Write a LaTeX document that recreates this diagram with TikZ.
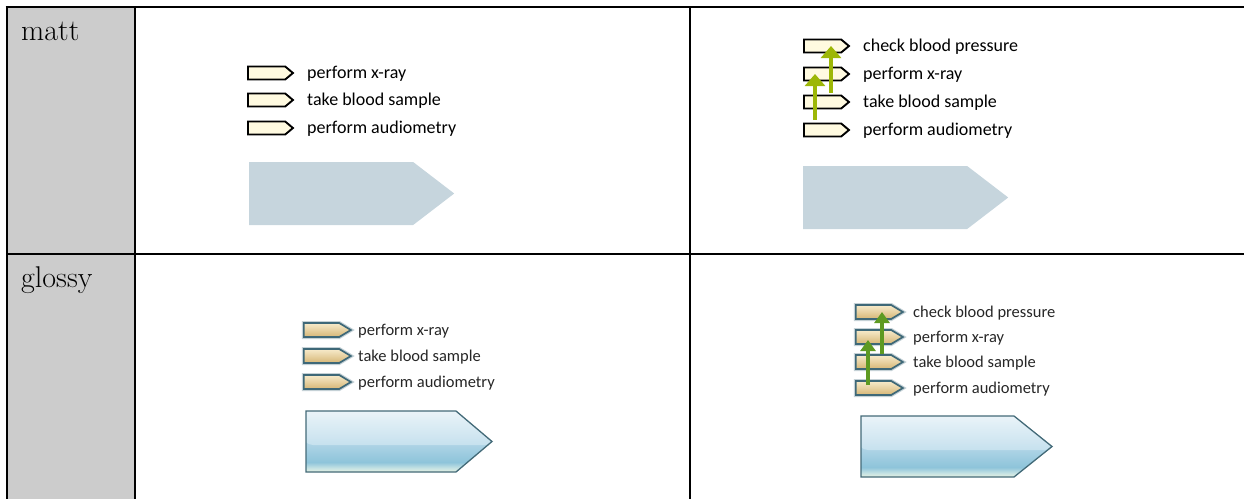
\documentclass[tikz,border=0pt]{standalone}
\usepackage{fontspec}
\newfontfamily\lblfont{Carlito}
\usetikzlibrary{shapes.symbols,arrows.meta}
\definecolor{cellgrey}{HTML}{CCCCCC}
\definecolor{cream}{HTML}{FFFAE0}
\definecolor{mattblue}{HTML}{C6D5DD}
\definecolor{mattgreen}{HTML}{9DB707}
\definecolor{glgreen}{HTML}{5E9A22}
\definecolor{gledge}{HTML}{3E6878}
\definecolor{tanlight}{HTML}{F7EBCB}
\definecolor{tandark}{HTML}{D6B676}
\definecolor{gb1}{HTML}{E6F0E0}
\definecolor{gb2}{HTML}{C8E4E4}
\definecolor{gb3}{HTML}{8EC4DA}
\definecolor{gb4}{HTML}{ACD3E5}
\definecolor{gb5}{HTML}{BCDCEA}
\definecolor{hl1}{HTML}{EFF6FA}
\definecolor{hl2}{HTML}{C6E1EE}
\definecolor{bigedge}{HTML}{436A78}
\pgfdeclareverticalshading{glossybase}{100bp}{color(0bp)=(gb1); color(25bp)=(gb1); color(28bp)=(gb2); color(33bp)=(gb3); color(47bp)=(gb4); color(75bp)=(gb5); color(100bp)=(gb5)}
% #1 left x, #2 top y, #3 point start x, #4 tip x, #5 bottom y
\newcommand\glossybig[5]{%
  \shade[shading=glossybase] (#1,#2) -- (#3,#2) -- (#4,{(#2+#5)/2}) -- (#3,#5) -- (#1,#5) -- cycle;
  \begin{scope}
    \clip (#1,#2) -- (#3,#2) -- (#4,{(#2+#5)/2}) -- (#3,#5) -- (#1,#5) -- cycle;
    \shade[top color=hl1, bottom color=hl2, rounded corners=13pt] ({#1-5},{#2-5}) rectangle ({#4+5},{#2+0.56*(#5-#2)});
  \end{scope}
  \draw[bigedge, line width=1.3pt, line join=miter] (#1,#2) -- (#3,#2) -- (#4,{(#2+#5)/2}) -- (#3,#5) -- (#1,#5) -- cycle;
}
\tikzset{
  grid/.style={line width=2pt, black},
  sig/.style={shape=signal, signal to=east, inner sep=0pt, anchor=west},
  msmall/.style={sig, draw=black, line width=1.9pt, fill=cream, minimum width=45pt, minimum height=13pt, signal pointer angle=80},
  mbig/.style={sig, fill=mattblue, minimum width=205pt, minimum height=63pt, signal pointer angle=75},
  gsmall/.style={sig, draw=gledge, line width=1.7pt, top color=tanlight, bottom color=tandark, minimum width=47pt, minimum height=14pt, signal pointer angle=62,
     preaction={draw=gledge, line width=4pt, opacity=0.3}},
  mlabel/.style={font=\lblfont\fontsize{18}{21}\selectfont, anchor=base west, inner sep=0pt},
  glabel/.style={font=\lblfont\fontsize{16.5}{19}\selectfont, text=black!85, anchor=base west, inner sep=0pt},
  rowlabel/.style={font=\fontsize{30}{34}\selectfont, anchor=base west, inner sep=0pt},
  marrow/.style={draw=mattgreen, line width=4pt, -{Triangle[width=20pt,length=12pt]}},
  garrow/.style={draw=glgreen, line width=4.5pt, -{Triangle[width=15pt,length=11pt]}}
}
\begin{document}
\begin{tikzpicture}[x=1pt,y=-1pt]
\useasboundingbox (0,0) rectangle (1244,499);
% table
\fill[cellgrey] (6.5,7) rectangle (135,499);
\draw[grid] (5.5,7) -- (1244,7);
\draw[grid] (6.5,7) -- (6.5,499);
\draw[grid] (135,7) -- (135,499);
\draw[grid] (690,7) -- (690,499);
\draw[grid] (6.5,254) -- (1244,254);
\node[rowlabel] (lmatt) at (21,40) {matt};
\node[rowlabel] (lglossy) at (21,287) {glossy};
% matt left
\node[msmall] (m1xray) at (247,73) {};
\node[msmall] (m1blood) at (247,100) {};
\node[msmall] (m1aud) at (247,128) {};
\node[mlabel] (tm1xray) at (307,78) {perform x-ray};
\node[mlabel] (tm1blood) at (307,105) {take blood sample};
\node[mlabel] (tm1aud) at (307,133) {perform audiometry};
\node[mbig] (m1big) at (249,193.5) {};
% matt right
\node[msmall] (m2check) at (803,46) {};
\node[msmall] (m2xray) at (803,74) {};
\node[msmall] (m2blood) at (803,102) {};
\node[msmall] (m2aud) at (803,130) {};
\node[mlabel] (tm2check) at (863,51) {check blood pressure};
\node[mlabel] (tm2xray) at (863,79) {perform x-ray};
\node[mlabel] (tm2blood) at (863,107) {take blood sample};
\node[mlabel] (tm2aud) at (863,135) {perform audiometry};
\node[mbig] (m2big) at (803,197.5) {};
\draw[marrow] ([xshift=12pt,yshift=3pt]m2aud.north west) -- ([xshift=12pt]m2xray.west);
\draw[marrow] ([xshift=28pt,yshift=2pt]m2blood.north west) -- ([xshift=28pt]m2check.west);
% glossy left
\node[gsmall] (g1xray) at (303,330) {};
\node[gsmall] (g1blood) at (303,356) {};
\node[gsmall] (g1aud) at (303,382) {};
\node[glabel] (tg1xray) at (358,335) {perform x-ray};
\node[glabel] (tg1blood) at (358,361) {take blood sample};
\node[glabel] (tg1aud) at (358,387) {perform audiometry};
\glossybig{306}{411}{456}{492}{472}
% glossy right
\node[gsmall] (g2check) at (855,312) {};
\node[gsmall] (g2xray) at (855,337) {};
\node[gsmall] (g2blood) at (855,362) {};
\node[gsmall] (g2aud) at (855,388) {};
\node[glabel] (tg2check) at (913,317) {check blood pressure};
\node[glabel] (tg2xray) at (913,342) {perform x-ray};
\node[glabel] (tg2blood) at (913,367) {take blood sample};
\node[glabel] (tg2aud) at (913,393) {perform audiometry};
\glossybig{861}{416}{1014}{1052}{477}
\draw[garrow] ([xshift=13pt,yshift=3pt]g2aud.west) -- ([xshift=13pt,yshift=-3pt]g2xray.west);
\draw[garrow] ([xshift=27pt]g2blood.north west) -- ([xshift=27pt]g2check.west);
\end{tikzpicture}
\end{document}
